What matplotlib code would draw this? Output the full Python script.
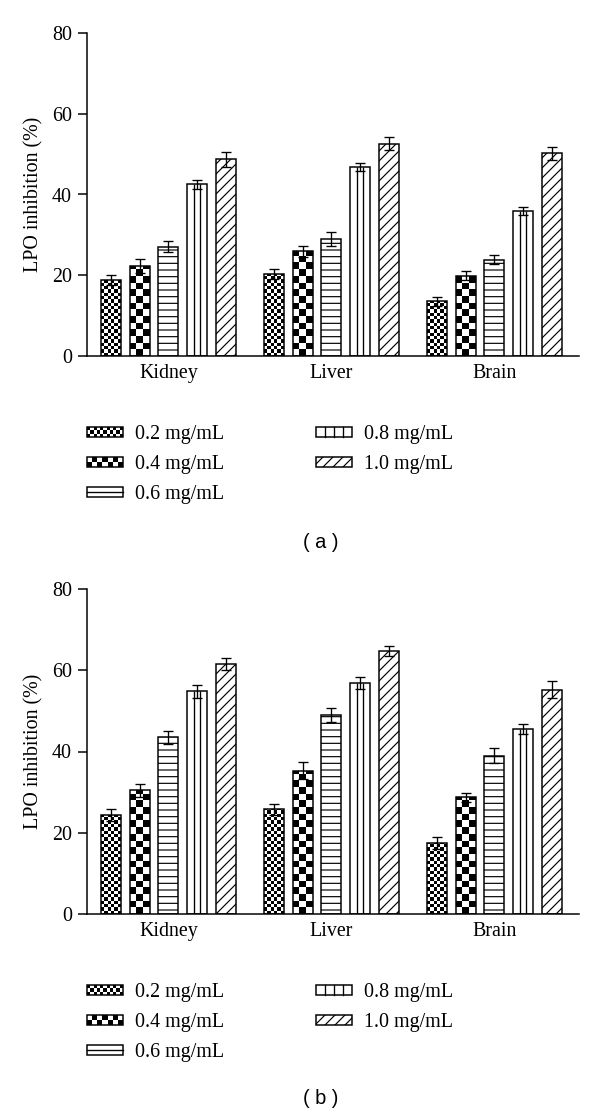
import matplotlib
matplotlib.use("Agg")
import matplotlib.pyplot as plt
from matplotlib.patches import Rectangle, Patch
from matplotlib.lines import Line2D
from matplotlib.collections import PatchCollection
from matplotlib.legend_handler import HandlerBase
import numpy as np

organs = ["Kidney", "Liver", "Brain"]
doses = ["0.2 mg/mL", "0.4 mg/mL", "0.6 mg/mL", "0.8 mg/mL", "1.0 mg/mL"]
yticks = [0, 20, 40, 60, 80]

# rows = dose, columns = organ
lpo_a = [[18.8, 20.3, 13.5],
         [22.3, 25.9, 19.9],
         [27.1, 28.9, 23.8],
         [42.5, 46.8, 35.9],
         [48.7, 52.6, 50.2]]
err_a = [[1.2, 1.2, 1.1],
         [1.7, 1.4, 1.1],
         [1.4, 1.7, 1.1],
         [1.2, 1.1, 1.1],
         [1.9, 1.7, 1.6]]

lpo_b = [[24.4, 25.8, 17.5],
         [30.5, 35.3, 28.7],
         [43.5, 49.0, 39.0],
         [54.8, 56.9, 45.6],
         [61.6, 64.8, 55.2]]
err_b = [[1.4, 1.4, 1.4],
         [1.6, 2.0, 1.1],
         [1.6, 1.8, 1.8],
         [1.6, 1.5, 1.2],
         [1.5, 1.2, 2.1]]

kinds = ["fine", "coarse", "hlines", "vlines", "diag"]
HATCH = {"hlines": "---", "diag": "////"}
CHECK_COLS = {"fine": 6, "coarse": 3}   # checker columns inside a bar
LEG_ROWS = {"fine": 3, "coarse": 2}     # checker rows inside a legend key
STEP = 0.176
WIDTH = 0.123
DPI = 120
W, H = 600, 1111

plt.rcParams["hatch.linewidth"] = 0.7
serif = "Liberation Serif"


class PatternHandler(HandlerBase):
    def __init__(self, kind):
        super().__init__()
        self.kind = kind

    def create_artists(self, legend, orig_handle, xdescent, ydescent,
                       width, height, fontsize, trans):
        x0, y0 = -xdescent, -ydescent
        arts = [Rectangle((x0, y0), width, height, facecolor="white",
                          edgecolor="none", transform=trans)]
        if self.kind in LEG_ROWS:
            nrow = LEG_ROWS[self.kind]
            c = height / nrow
            ncol = int(round(width / c))
            cw = width / ncol
            for r in range(nrow):
                for i in range(ncol):
                    if (r + i) % 2 == 0:
                        arts.append(Rectangle((x0 + i * cw, y0 + r * c), cw, c,
                                              facecolor="black", edgecolor="none",
                                              transform=trans))
        elif self.kind == "hlines":
            arts.append(Line2D([x0, x0 + width], [y0 + height / 2] * 2,
                               color="black", lw=0.8, transform=trans))
        elif self.kind == "vlines":
            for f in (0.25, 0.5, 0.75):
                arts.append(Line2D([x0 + f * width] * 2, [y0, y0 + height],
                                   color="black", lw=0.8, transform=trans))
        arts.append(Rectangle((x0, y0), width, height, fill=False,
                              edgecolor="black", lw=0.9,
                              hatch=HATCH.get(self.kind) if self.kind == "diag" else None,
                              transform=trans))
        return arts


def add_fill(ax, bar, kind, px_x, px_y):
    x0, w, h = bar.get_x(), bar.get_width(), bar.get_height()
    if kind in CHECK_COLS:
        ncol = CHECK_COLS[kind]
        cw = w / ncol
        ch = cw * px_x / px_y
        nrow = int(np.ceil(h / ch))
        squares = [Rectangle((x0 + c * cw, r * ch), cw, ch)
                   for r in range(nrow) for c in range(ncol) if (r + c) % 2 == 1]
        pc = PatchCollection(squares, facecolor="black", edgecolor="none", zorder=2.5)
        ax.add_collection(pc, autolim=False)
        pc.set_clip_path(bar)
    elif kind == "vlines":
        ax.vlines([x0 + w / 3, x0 + 2 * w / 3], 0, h, color="black", lw=0.8, zorder=2.5)


def draw_panel(ax, values, errors):
    x = np.arange(len(organs))
    ax.set_xlim(-0.5, 2.52)
    ax.set_ylim(0, 80)
    (ax0, ay0), (ax1, ay1) = ax.transData.transform([(0, 0), (1, 1)])
    px_x, px_y = ax1 - ax0, ay1 - ay0
    for j, kind in enumerate(kinds):
        pos = x + (j - 2) * STEP
        fills = ax.bar(pos, values[j], WIDTH, color="white", edgecolor="none", zorder=2)
        for b in fills:
            add_fill(ax, b, kind, px_x, px_y)
        ax.bar(pos, values[j], WIDTH, fill=False, edgecolor="black", lw=0.9,
               hatch=HATCH.get(kind), zorder=3)
        ax.errorbar(pos, values[j], yerr=errors[j], fmt="none", ecolor="black",
                    elinewidth=0.8, capsize=3, capthick=0.8, zorder=4)

    ax.set_xticks(x)
    ax.set_xticklabels(organs, fontfamily=serif, fontsize=12)
    ax.set_yticks(yticks)
    ax.set_yticklabels([str(t) for t in yticks], fontfamily=serif, fontsize=12)
    ax.tick_params(axis="x", length=0, pad=5)
    ax.tick_params(axis="y", length=5.4, width=0.9, pad=3.6)
    for s in ("top", "right"):
        ax.spines[s].set_visible(False)
    for s in ("left", "bottom"):
        ax.spines[s].set_linewidth(0.9)
    ax.set_ylabel("LPO inhibition (%)", fontfamily=serif, fontsize=12, va="center")
    ax.yaxis.set_label_coords(-0.107, 0.5)
    ax.set_xlim(-0.5, 2.52)
    ax.set_ylim(0, 80)


fig = plt.figure(figsize=(W / DPI, H / DPI), dpi=DPI)
panels = [
    (lpo_a, err_a, 33, 356, 425, 542, "( a )"),
    (lpo_b, err_b, 589, 914, 983, 1098, "( b )"),
]
left, right = 87, 579
for vals, errs, top_px, bot_px, leg_top, lab_y, tag in panels:
    ax = fig.add_axes([left / W, 1 - bot_px / H, (right - left) / W, (bot_px - top_px) / H])
    draw_panel(ax, vals, errs)
    handles = [Patch(facecolor="white", edgecolor="black", label=d) for d in doses]
    fig.legend(handles=handles,
               handler_map={h: PatternHandler(k) for h, k in zip(handles, kinds)},
               ncol=2, loc="upper left", bbox_to_anchor=(left / W, 1 - leg_top / H),
               frameon=False, prop={"family": serif, "size": 12},
               handlelength=1.8, handleheight=0.4, handletextpad=0.6,
               columnspacing=4.6, labelspacing=0.55, borderpad=0, borderaxespad=0)
    fig.text(321 / W, 1 - lab_y / H, tag, ha="center", va="center",
             fontfamily="Liberation Sans", fontsize=12)

fig.savefig("out.png", dpi=DPI)
